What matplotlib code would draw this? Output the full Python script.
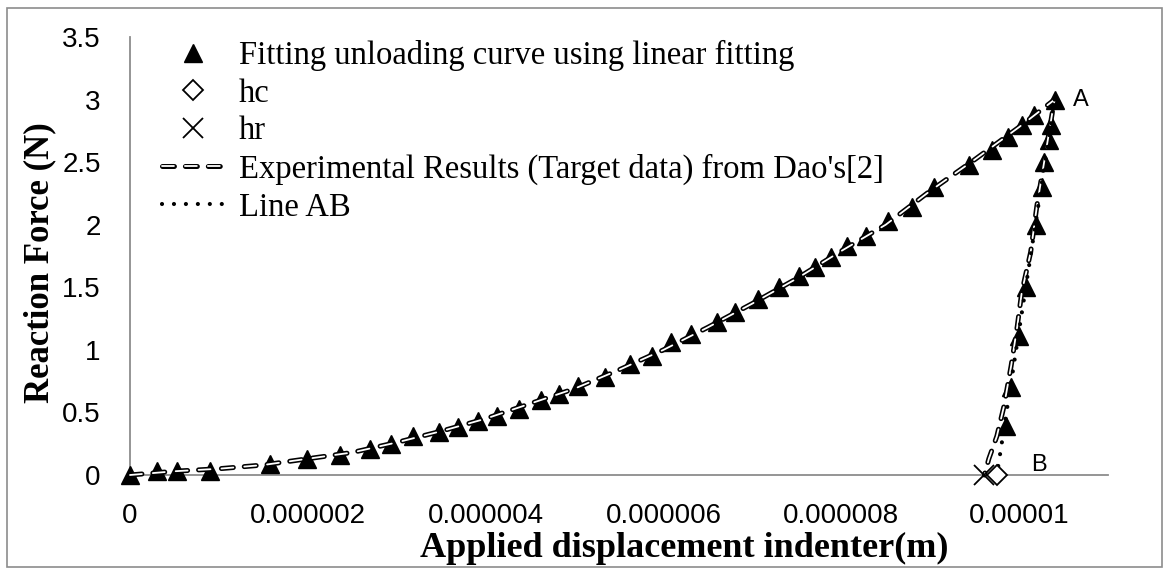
import matplotlib
matplotlib.use("Agg")
import numpy as np
import matplotlib.pyplot as plt
from matplotlib.patches import Rectangle

plt.rcParams['lines.scale_dashes'] = False

# fitted points (triangles): loading branch then unloading branch, x in m, y in N
fit_x = [0, 0.30e-6, 0.53e-6, 0.90e-6, 1.57e-6, 1.99e-6, 2.36e-6, 2.70e-6, 2.94e-6,
         3.18e-6, 3.48e-6, 3.69e-6, 3.91e-6, 4.13e-6, 4.38e-6, 4.62e-6, 4.82e-6, 5.04e-6,
         5.34e-6, 5.62e-6, 5.87e-6, 6.09e-6, 6.31e-6, 6.60e-6, 6.80e-6, 7.06e-6, 7.30e-6,
         7.53e-6, 7.70e-6, 7.89e-6, 8.07e-6, 8.28e-6, 8.52e-6, 8.80e-6, 9.04e-6, 9.44e-6,
         9.70e-6, 9.87e-6, 10.03e-6, 10.17e-6, 10.40e-6,
         10.36e-6, 10.34e-6, 10.28e-6, 10.26e-6, 10.19e-6, 10.08e-6, 10.00e-6, 9.91e-6, 9.85e-6]
fit_y = [0, 0.03, 0.03, 0.03, 0.09, 0.13, 0.16, 0.21, 0.25,
         0.31, 0.34, 0.38, 0.43, 0.47, 0.53, 0.60, 0.65, 0.71,
         0.78, 0.89, 0.95, 1.06, 1.13, 1.22, 1.30, 1.41, 1.50,
         1.59, 1.66, 1.74, 1.83, 1.91, 2.03, 2.14, 2.30, 2.48,
         2.60, 2.70, 2.80, 2.88, 3.00,
         2.80, 2.68, 2.50, 2.30, 2.00, 1.50, 1.11, 0.70, 0.39]

# experimental curve (Dao)
exp_x = [0, 0.5e-6, 1.0e-6, 1.5e-6, 2.0e-6, 2.5e-6, 3.0e-6, 3.5e-6, 4.0e-6, 4.5e-6,
         5.0e-6, 5.5e-6, 6.0e-6, 6.5e-6, 7.0e-6, 7.5e-6, 8.0e-6, 8.5e-6, 9.0e-6, 9.5e-6,
         10.0e-6, 10.4e-6,
         10.37e-6, 10.20e-6, 10.13e-6, 10.03e-6, 9.98e-6, 9.91e-6, 9.83e-6, 9.75e-6, 9.66e-6, 9.61e-6]
exp_y = [0, 0.03, 0.05, 0.08, 0.13, 0.18, 0.26, 0.35, 0.45, 0.57,
         0.69, 0.84, 1.00, 1.18, 1.37, 1.57, 1.79, 2.00, 2.27, 2.52,
         2.78, 3.00,
         2.88, 2.15, 1.78, 1.46, 1.19, 0.87, 0.55, 0.31, 0.13, 0]

# line AB
ab_x = [10.4e-6, 9.75e-6]
ab_y = [3.0, 0]

hc_x, hc_y = [9.75e-6], [0]
hr_x, hr_y = [9.61e-6], [0]

tick_font = ['Liberation Sans Narrow', 'Liberation Sans']
serif = 'Liberation Serif'

fig = plt.figure(figsize=(11.7, 5.68), dpi=100)
ax = fig.add_axes([130 / 1170, 93 / 568, 978 / 1170, 438 / 568])

tri, = ax.plot(fit_x, fit_y, linestyle='None', marker='^', markersize=13,
               color='black', zorder=3, clip_on=False)
dash = (0, (8.6, 7.9))
exp_out, = ax.plot(exp_x, exp_y, color='black', linewidth=3.6, linestyle=dash,
                   dash_capstyle='round', zorder=4, clip_on=False)
exp_in, = ax.plot(exp_x, exp_y, color='white', linewidth=1.3, linestyle=dash,
                  dash_capstyle='round', zorder=5, clip_on=False)
ab, = ax.plot(ab_x, ab_y, color='black', linewidth=3.0, linestyle=(0, (0.01, 8.6)),
              dash_capstyle='round', zorder=6)
hc, = ax.plot(hc_x, hc_y, linestyle='None', marker='D', markersize=10,
              markerfacecolor='white', markeredgecolor='black', markeredgewidth=1.3,
              zorder=7, clip_on=False)
hr, = ax.plot(hr_x, hr_y, linestyle='None', marker='x', markersize=14,
              color='black', markeredgewidth=1.3, zorder=7, clip_on=False)

ax.annotate('A', xy=(ab_x[0], ab_y[0]), xytext=(13, 0), textcoords='offset points',
            ha='left', va='center', fontsize=17, family=tick_font)
ax.annotate('B', xy=(ab_x[1], ab_y[1]), xytext=(25, 7), textcoords='offset points',
            ha='left', va='center', fontsize=17, family=tick_font)

ax.set_xlim(0, 1.1e-5)
ax.set_ylim(0, 3.5)
ax.set_xticks([0, 2e-6, 4e-6, 6e-6, 8e-6, 1e-5])
ax.set_xticklabels(['0', '0.000002', '0.000004', '0.000006', '0.000008', '0.00001'])
ax.set_yticks([0, 0.5, 1, 1.5, 2, 2.5, 3, 3.5])
ax.set_yticklabels(['0', '0.5', '1', '1.5', '2', '2.5', '3', '3.5'])
ax.tick_params(length=0, labelsize=20)
ax.tick_params(axis='x', pad=20)
ax.tick_params(axis='y', pad=21)
for lab in ax.get_xticklabels() + ax.get_yticklabels():
    lab.set_family(tick_font)

for s in ['top', 'right']:
    ax.spines[s].set_visible(False)
for s in ['left', 'bottom']:
    ax.spines[s].set_color('#8c8c8c')
    ax.spines[s].set_linewidth(1.3)

ax.set_xlabel('Applied displacement indenter(m)', family=serif, fontweight='bold',
              fontsize=26)
ax.set_ylabel('Reaction Force (N)', family=serif, fontweight='bold', fontsize=25)
ax.xaxis.set_label_coords(0.5665, -0.13)
ax.yaxis.set_label_coords(-0.075, 0.486)

leg = ax.legend([tri, hc, hr, (exp_out, exp_in), ab],
                ['Fitting unloading curve using linear fitting', 'hc', 'hr',
                 "Experimental Results (Target data) from Dao's[2]", 'Line AB'],
                loc='upper left', bbox_to_anchor=(162 / 1170, 1 - 40 / 568),
                bbox_transform=fig.transFigure, frameon=False,
                prop={'family': serif, 'size': 23.5}, handlelength=1.9,
                handletextpad=0.45, labelspacing=0.22, borderaxespad=0, borderpad=0)

fig.patches.append(Rectangle((7 / 1170, 1 / 568), 1155 / 1170, 559 / 568,
                             transform=fig.transFigure, fill=False,
                             edgecolor='#8c8c8c', linewidth=1.2))

fig.savefig('out.png', dpi=100)
